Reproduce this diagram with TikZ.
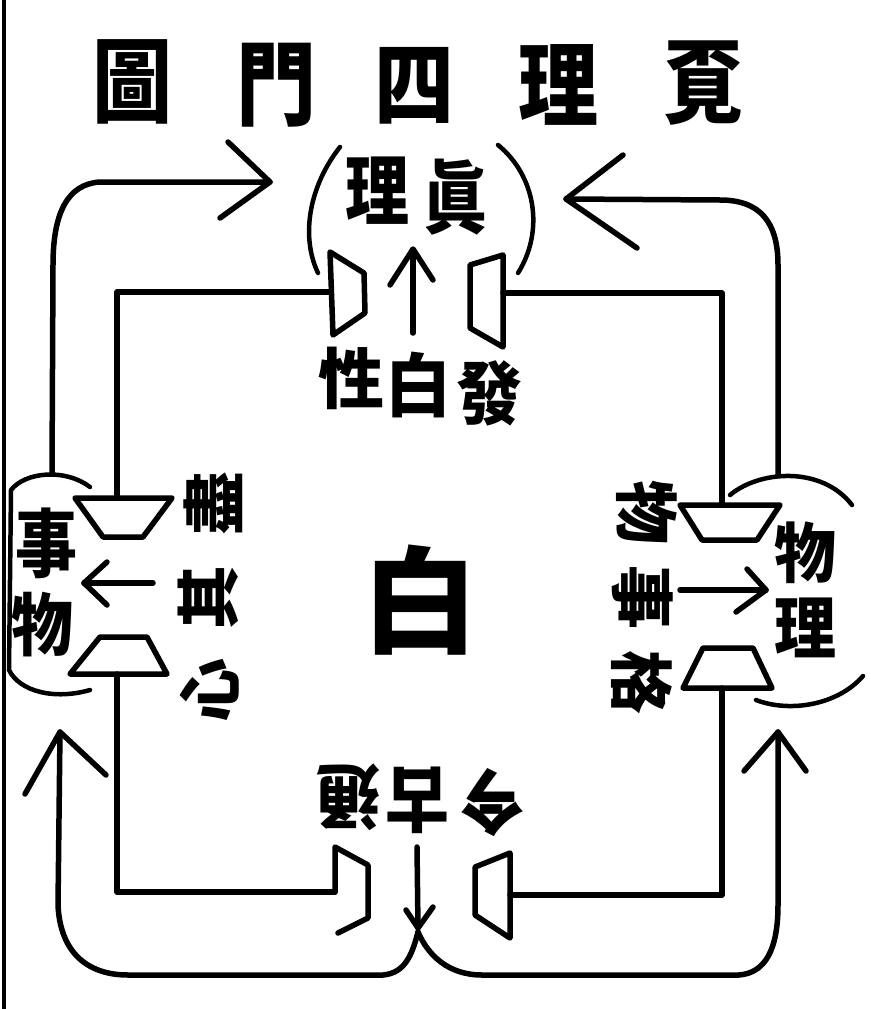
\documentclass[tikz,border=0pt]{standalone}
\usepackage{fontspec}
\usepackage{graphicx}
\newfontfamily\cjk{Noto Sans CJK TC}
\newcommand{\tc}[2][1.15]{\scalebox{1}[#1]{#2}}
\tikzset{
  ln/.style={line width=5.5pt, line cap=round, line join=round},
  arcln/.style={line width=4.5pt, line cap=round},
  ch/.style={inner sep=0pt, font=\cjk\bfseries\fontsize{#1pt}{#1pt}\selectfont},
}
\begin{document}
\begin{tikzpicture}[x=1pt,y=-1pt]
\useasboundingbox (0,0) rectangle (870,1009);
\fill[white] (0,0) rectangle (870,1009);
% page border line
\draw[line width=4.5pt] (4,0) -- (4,1009);

% ---- title
\node[ch=80] (t1) at (132,82) {\tc{圖}};
\node[ch=80] (t2) at (276,85) {\tc{門}};
\node[ch=80] (t3) at (414,86) {\tc{四}};
\node[ch=80] (t4) at (558,85) {\tc{理}};
\node[ch=80] (t5) at (703,83) {\tc{覔}};

% ---- top circle
\node[ch=64] (c1) at (377,191) {\tc[1.2]{理}};
\node[ch=64] (c2) at (455,197) {\tc[1.25]{眞}};
\draw[arcln] (340,147) .. controls (310,185) and (300,235) .. (318,273);
\draw[arcln] (498,145) .. controls (535,175) and (545,230) .. (518,273);

% ---- top gate text
\node[ch=66] (g1) at (351,378) {\tc[1.0]{性}};
\node[ch=66] (g2) at (418,385) {\tc[1.05]{白}};
\node[ch=66] (g3) at (489,393) {\tc[1.05]{發}};

% ---- left circle
\node[ch=62] (l1) at (46,543) {\tc[1.2]{事}};
\node[ch=62] (l2) at (43,625) {\tc[1.1]{物}};
\draw[arcln] (90,487) .. controls (65,468) and (25,472) .. (11,490) -- (9,670) .. controls (20,692) and (55,700) .. (90,690);

% ---- right circle
\node[ch=62] (r1) at (805,553) {\tc[1.05]{物}};
\node[ch=62] (r2) at (805,628) {\tc[1.1]{理}};
\draw[arcln] (730,495) .. controls (760,470) and (822,466) .. (852,505);
\draw[arcln] (756,700) .. controls (790,713) and (838,705) .. (863,676);

% ---- left gate text (turned)
\node[ch=64, rotate=90] (m1) at (213,503) {盡};
\node[ch=64, rotate=90] (m2) at (208,597) {其};
\node[ch=64, rotate=90] (m3) at (210,690) {心};

% ---- right gate text (turned)
\node[ch=64, rotate=-90] (n1) at (647,512) {物};
\node[ch=64, rotate=-90] (n2) at (643,597) {事};
\node[ch=64, rotate=-90] (n3) at (642,682) {格};

% ---- bottom gate text (upside down)
\node[ch=64, rotate=180] (b1) at (348,797) {\tc[1.1]{通}};
\node[ch=64, rotate=180] (b2) at (417,800) {\tc[1.1]{古}};
\node[ch=64, rotate=180] (b3) at (492,803) {\tc[1.1]{今}};

% ---- centre
\node[ch=116] (ctr) at (420,600) {白};

% ---- named points
\coordinate (LCtop) at (52,473);
\coordinate (TLtip) at (270,182);
\coordinate (RCtop) at (778,475);
\coordinate (TRtip) at (566,199);
\coordinate (BM) at (418,932);
\coordinate (BLtip) at (60,732);
\coordinate (BRtip) at (778,732);

% ---- outer loops
\draw[ln] (LCtop) -- (53,265) .. controls (53,212) and (68,184) .. (100,182) -- (TLtip);
\draw[ln] (228,142) -- (TLtip) -- (220,218);
\draw[ln] (RCtop) -- (778,265) .. controls (778,222) and (760,200) .. (720,200) -- (TRtip);
\draw[ln] (623,155) -- (TRtip) -- (637,248);
\draw[ln] (BLtip) -- (58,905) .. controls (60,950) and (85,975) .. (128,975) -- (383,975) .. controls (405,973) and (412,955) .. (BM);
\draw[ln] (25,794) -- (BLtip) -- (106,775);
\draw[ln] (BM) .. controls (428,955) and (448,975) .. (482,975) -- (739,975) .. controls (765,973) and (778,950) .. (778,905) -- (BRtip);
\draw[ln] (744,771) -- (BRtip) -- (806,771);

% ---- gates
\draw[ln] (330,252) -- (364,273) -- (365,313) -- (333,335) -- cycle;
\draw[ln] (470,265) -- (503,255) -- (503,347) -- (470,328) -- cycle;
\draw[ln] (75,498) -- (172,498) -- (143,537) -- (103,537) -- cycle;
\draw[ln] (70,674) -- (167,674) -- (147,637) -- (100,637) -- cycle;
\draw[ln] (680,505) -- (780,505) -- (757,540) -- (702,540) -- cycle;
\draw[ln] (683,688) -- (772,688) -- (753,648) -- (703,648) -- cycle;
\draw[ln] (335,892) -- (335,847) -- (368,865) -- (368,918) -- (338,933);
\draw[ln] (475,867) -- (510,853) -- (510,938) -- (475,915) -- cycle;

% ---- inner frame
\draw[ln] (117,498) -- (117,292) -- (330,292);
\draw[ln] (503,293) -- (722,293) -- (722,505);
\draw[ln] (117,674) -- (117,892) -- (335,892);
\draw[ln] (722,688) -- (722,895) -- (510,895);

% ---- gate arrows
\draw[ln] (413,333) -- (413,250);
\draw[ln] (390,285) -- (413,249) -- (433,280);
\draw[ln] (153,583) -- (84,583);
\draw[ln] (107,562) -- (84,583) -- (107,605);
\draw[ln] (680,590) -- (766,590);
\draw[ln] (747,569) -- (766,590) -- (736,612);
\draw[ln] (417,847) -- (418,928);
\draw[ln] (406,910) -- (418,928) -- (433,907);
\end{tikzpicture}
\end{document}
